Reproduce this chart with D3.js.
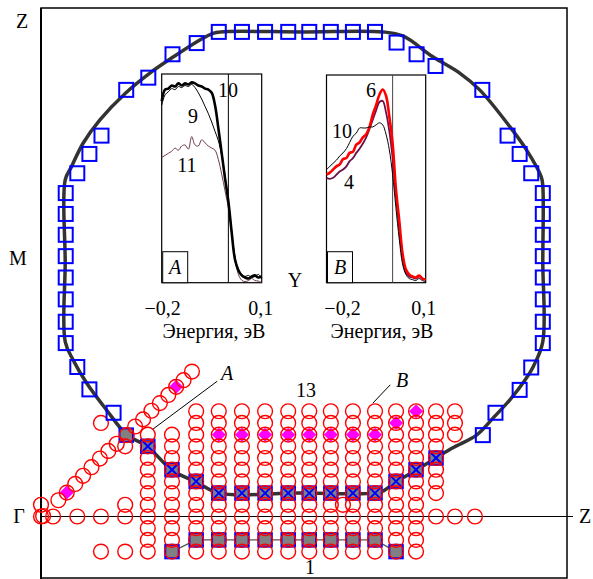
<!DOCTYPE html>
<html>
<head>
<meta charset="utf-8">
<script src="https://cdn.jsdelivr.net/npm/d3@7"></script>
<style>
  body { margin: 0; background: #fff; }
  svg { display: block; }
  text { font-family: "Liberation Serif", "Times New Roman", serif; font-size: 20px; fill: #000; }
</style>
</head>
<body>
<svg id="chart" width="593" height="579"></svg>
<script>
// ---- Momentum grid (fractions of the Γ–Z distance) ----
const rowKz = [-0.069, -0.046, -0.023, 0, 0.023, 0.046, 0.069, 0.092, 0.115, 0.138, 0.161, 0.184, 0.207]; // rows -3 … 9

// vertical scan columns: kx and the row range covered
const scanKx    = [0.203, 0.249, 0.295, 0.338, 0.382, 0.426, 0.470, 0.510, 0.551, 0.593, 0.635, 0.675, 0.713, 0.751, 0.787];
const scanRowLo = [-3, -3, -3, -3, -3, -3, -3, -3, -3, -3, -3, -3, -3, 2, 7];
const scanRowHi = [7, 7, 9, 9, 9, 9, 9, 9, 9, 9, 9, 9, 9, 9, 9];

// isolated measured points
const extraKx = [0.000, 0.004, 0.023, 0.069, 0.114, 0.160, 0.751, 0.787, 0.825, 0.000, 0.160, 0.114, 0.160, 0.114, 0.160, 0.574];
const extraKz = [0.000, 0.001, 0.000, 0.000, 0.000, 0.000, 0.000, 0.000, 0.000, 0.023, 0.023, -0.069, -0.069, 0.184, 0.138, 0.023];

// diagonal cut
const diagKx = [0.033, 0.049, 0.065, 0.080, 0.096, 0.112, 0.128, 0.144, 0.163, 0.179, 0.194, 0.210, 0.226, 0.242, 0.257, 0.271, 0.287];
const diagKz = [0.032, 0.047, 0.064, 0.080, 0.097, 0.114, 0.129, 0.143, 0.160, 0.177, 0.191, 0.208, 0.223, 0.239, 0.255, 0.268, 0.285];

// Fermi-surface crossings (open squares)
const fsKx = [0.338, 0.382, 0.426, 0.470, 0.510, 0.551, 0.593, 0.635,
              0.296, 0.250, 0.204, 0.162, 0.115, 0.092, 0.069,
              0.047, 0.047, 0.047, 0.047, 0.047, 0.047, 0.047, 0.047,
              0.069, 0.092, 0.138,
              0.676, 0.714, 0.750, 0.839, 0.887, 0.910, 0.932,
              0.954, 0.954, 0.954, 0.954, 0.954, 0.954, 0.954, 0.954,
              0.932, 0.910, 0.864, 0.840];
const fsKz = [0.953, 0.953, 0.953, 0.953, 0.953, 0.953, 0.953, 0.953,
              0.931, 0.909, 0.863, 0.839, 0.749, 0.713, 0.675,
              0.636, 0.595, 0.554, 0.512, 0.470, 0.427, 0.383, 0.341,
              0.294, 0.250, 0.204,
              0.932, 0.909, 0.886, 0.839, 0.749, 0.713, 0.675,
              0.636, 0.595, 0.554, 0.512, 0.470, 0.427, 0.383, 0.341,
              0.293, 0.249, 0.204, 0.160];

// crossings on the scan grid (grey squares, crossed)
const crossKx = [0.203, 0.249, 0.295, 0.338, 0.382, 0.426, 0.470, 0.510, 0.551, 0.593, 0.635, 0.675, 0.713, 0.751];
const crossKz = [0.138, 0.092, 0.069, 0.046, 0.046, 0.046, 0.046, 0.046, 0.046, 0.046, 0.046, 0.069, 0.092, 0.115];
const cutAKx = [0.162];
const cutAKz = [0.160];

// band 1 (grey squares joined by a line)
const bandKx = [0.249, 0.295, 0.338, 0.382, 0.426, 0.470, 0.510, 0.551, 0.593, 0.635, 0.675];
const bandKz = [-0.069, -0.046, -0.046, -0.046, -0.046, -0.046, -0.046, -0.046, -0.046, -0.046, -0.069];

// band 13 maxima (diamonds)
const dmKx = [0.049, 0.257, 0.338, 0.382, 0.426, 0.470, 0.510, 0.551, 0.593, 0.635, 0.675, 0.713];
const dmKz = [0.047, 0.255, 0.161, 0.161, 0.161, 0.161, 0.161, 0.161, 0.161, 0.161, 0.184, 0.207];

// Fermi contour
const contourKx = [0.327, 0.340, 0.500, 0.650, 0.688, 0.745, 0.796, 0.834, 0.891, 0.923, 0.951, 0.954, 0.954, 0.954,
                   0.936, 0.920, 0.891, 0.859, 0.828, 0.783, 0.751, 0.713, 0.675, 0.652, 0.635, 0.490, 0.338,
                   0.295, 0.249, 0.203, 0.163, 0.125, 0.087, 0.061, 0.046, 0.046, 0.046, 0.058, 0.080, 0.112,
                   0.160, 0.207, 0.252, 0.302];
const contourKz = [0.950, 0.953, 0.953, 0.953, 0.945, 0.904, 0.872, 0.839, 0.767, 0.721, 0.668, 0.650, 0.500, 0.344,
                   0.295, 0.268, 0.229, 0.193, 0.160, 0.135, 0.115, 0.091, 0.068, 0.051, 0.046, 0.046, 0.046,
                   0.068, 0.091, 0.137, 0.161, 0.209, 0.262, 0.308, 0.344, 0.500, 0.662, 0.688, 0.734, 0.780,
                   0.832, 0.872, 0.904, 0.937];

// ---- EDC insets ----
const energy = [-0.20, -0.19, -0.18, -0.17, -0.16, -0.15, -0.14, -0.13, -0.12, -0.11, -0.10,
                -0.09, -0.08, -0.07, -0.06, -0.05, -0.04, -0.03, -0.02, -0.01, 0.00,
                0.01, 0.02, 0.03, 0.04, 0.05, 0.06, 0.07, 0.08, 0.09, 0.10];
const edcA10 = [0.87, 0.925, 0.93, 0.945, 0.94, 0.955, 0.945, 0.955, 0.95, 0.96, 0.955,
                0.945, 0.94, 0.93, 0.925, 0.91, 0.85, 0.74, 0.62, 0.50, 0.39,
                0.24, 0.11, 0.06, 0.035, 0.025, 0.02, 0.03, 0.035, 0.025, 0.03];
const edcA9  = [0.85, 0.90, 0.915, 0.93, 0.925, 0.94, 0.935, 0.945, 0.94, 0.95, 0.935,
                0.91, 0.88, 0.845, 0.81, 0.77, 0.725, 0.68, 0.61, 0.51, 0.39,
                0.25, 0.12, 0.065, 0.04, 0.03, 0.035, 0.025, 0.03, 0.04, 0.02];
const edcA11 = [0.60, 0.61, 0.62, 0.63, 0.645, 0.635, 0.655, 0.66, 0.64, 0.70, 0.66,
                0.655, 0.685, 0.67, 0.655, 0.645, 0.635, 0.59, 0.52, 0.44, 0.36,
                0.24, 0.12, 0.04, 0.012, 0.005, 0.01, 0.02, 0.01, 0.008, 0.0];
const edcB6  = [0.52, 0.53, 0.545, 0.56, 0.57, 0.595, 0.60, 0.625, 0.63, 0.665, 0.675,
                0.70, 0.715, 0.75, 0.81, 0.855, 0.905, 0.93, 0.90, 0.80, 0.67,
                0.45, 0.30, 0.14, 0.065, 0.04, 0.03, 0.025, 0.035, 0.02, 0.015];
const edcB4  = [0.505, 0.50, 0.505, 0.52, 0.535, 0.545, 0.56, 0.585, 0.60, 0.625, 0.645,
                0.67, 0.70, 0.74, 0.785, 0.83, 0.87, 0.875, 0.82, 0.73, 0.60,
                0.42, 0.26, 0.12, 0.05, 0.03, 0.025, 0.02, 0.03, 0.02, 0.015];
const edcB10 = [0.545, 0.56, 0.575, 0.59, 0.61, 0.625, 0.645, 0.675, 0.705, 0.72, 0.745,
                0.745, 0.745, 0.75, 0.75, 0.76, 0.77, 0.76, 0.715, 0.64, 0.52,
                0.36, 0.21, 0.09, 0.04, 0.02, 0.015, 0.01, 0.02, 0.01, 0.005];
const energyTicks = [-0.2, 0.1];
const energyTickText = ["\u22120,2", "0,1"];

// ---- drawing ----
const svg = d3.select("#chart");
const x = d3.scaleLinear().domain([0, 1]).range([41, 567]);
const y = d3.scaleLinear().domain([0, 1]).range([516.5, 8]);
const zip = (a, b) => a.map((v, i) => [v, b[i]]);

// frame and Γ–Z line
svg.append("rect").attr("x", x(0)).attr("y", y(1)).attr("width", x(1) - x(0)).attr("height", 578 - y(1))
  .attr("fill", "none").attr("stroke", "#000").attr("stroke-width", 1.5);
svg.append("line").attr("x1", x(0)).attr("x2", x(0)).attr("y1", y(1)).attr("y2", 579)
  .attr("stroke", "#000").attr("stroke-width", 2);
svg.append("line").attr("x1", x(0)).attr("x2", x(1) + 6).attr("y1", y(0)).attr("y2", y(0))
  .attr("stroke", "#000").attr("stroke-width", 1);

// Fermi contour
svg.append("path")
  .datum(zip(contourKx, contourKz))
  .attr("d", d3.line().x(d => x(d[0])).y(d => y(d[1])).curve(d3.curveCatmullRomClosed.alpha(0.5)))
  .attr("fill", "none").attr("stroke", "#333").attr("stroke-width", 3.5);

// band 1 line + squares
const band = zip(bandKx, bandKz);
svg.append("path").datum(band)
  .attr("d", d3.line().x(d => x(d[0])).y(d => y(d[1])))
  .attr("fill", "none").attr("stroke", "#555").attr("stroke-width", 1.3);

function greySquares(pts, s) {
  svg.append("g").selectAll("rect").data(pts).join("rect")
    .attr("x", d => x(d[0]) - s / 2).attr("y", d => y(d[1]) - s / 2)
    .attr("width", s).attr("height", s)
    .attr("fill", "#808080").attr("stroke", "#0000ff").attr("stroke-width", 2);
}
greySquares(band, 13.5);
const crosses = zip(crossKx, crossKz);
greySquares(crosses, 13.5);
greySquares(zip(cutAKx, cutAKz), 13.5);

// blue crosses
const cg = svg.append("g").attr("stroke", "#0000ff").attr("stroke-width", 2);
crosses.forEach(d => {
  const cx = x(d[0]), cy = y(d[1]), h = 5.5;
  cg.append("line").attr("x1", cx - h).attr("y1", cy - h).attr("x2", cx + h).attr("y2", cy + h);
  cg.append("line").attr("x1", cx - h).attr("y1", cy + h).attr("x2", cx + h).attr("y2", cy - h);
});

// diamonds
svg.append("g").selectAll("path").data(zip(dmKx, dmKz)).join("path")
  .attr("d", d => { const cx = x(d[0]), cy = y(d[1]), h = 7; return `M${cx},${cy - h}L${cx + h},${cy}L${cx},${cy + h}L${cx - h},${cy}Z`; })
  .attr("fill", "#ff00ff");

// measured points (red circles)
const scanPts = [];
scanKx.forEach((kx, i) => { for (let r = scanRowLo[i]; r <= scanRowHi[i]; r++) scanPts.push([kx, rowKz[r + 3]]); });
const allPts = scanPts.concat(zip(extraKx, extraKz), zip(diagKx, diagKz));
svg.append("g").selectAll("circle").data(allPts).join("circle")
  .attr("cx", d => x(d[0])).attr("cy", d => y(d[1])).attr("r", 7.4)
  .attr("fill", "none").attr("stroke", "#ff0000").attr("stroke-width", 1.4);

// Fermi-surface open squares
svg.append("g").selectAll("rect").data(zip(fsKx, fsKz)).join("rect")
  .attr("x", d => x(d[0]) - 7).attr("y", d => y(d[1]) - 7).attr("width", 14).attr("height", 14)
  .attr("fill", "none").attr("stroke", "#0000ff").attr("stroke-width", 2);

// cut labels
svg.append("line").attr("x1", x(0.213)).attr("y1", y(0.172)).attr("x2", x(0.335)).attr("y2", y(0.266))
  .attr("stroke", "#000").attr("stroke-width", 1);
svg.append("text").attr("x", 227).attr("y", 380).attr("text-anchor", "middle").attr("font-style", "italic").text("A");
svg.append("line").attr("x1", x(0.631)).attr("y1", y(0.223)).attr("x2", x(0.664)).attr("y2", y(0.259))
  .attr("stroke", "#000").attr("stroke-width", 1);
svg.append("text").attr("x", 402).attr("y", 387).attr("text-anchor", "middle").attr("font-style", "italic").text("B");
svg.append("text").attr("x", 306).attr("y", 397).attr("text-anchor", "middle").text("13");
svg.append("text").attr("x", 310).attr("y", 574).attr("text-anchor", "middle").text("1");

// high-symmetry labels
svg.append("text").attr("x", 22).attr("y", 28).attr("text-anchor", "middle").text("Z");
svg.append("text").attr("x", 18).attr("y", 265).attr("text-anchor", "middle").text("M");
svg.append("text").attr("x", 19).attr("y", 523).attr("text-anchor", "middle").text("\u0393");
svg.append("text").attr("x", 585).attr("y", 523).attr("text-anchor", "middle").text("Z");
svg.append("text").attr("x", 295).attr("y", 287).attr("text-anchor", "middle").text("Y");

// EDC inset
function inset(opt) {
  const ex = d3.scaleLinear().domain([-0.2, 0.1]).range([opt.left, opt.right]);
  const iy = d3.scaleLinear().domain([0, 1]).range([opt.bottom, opt.top]);
  const g = svg.append("g");
  g.append("rect").attr("x", opt.left).attr("y", opt.top).attr("width", opt.right - opt.left)
    .attr("height", opt.bottom - opt.top).attr("fill", "#fff").attr("stroke", "#000").attr("stroke-width", 1.2);
  g.append("line").attr("x1", ex(0)).attr("x2", ex(0)).attr("y1", opt.top).attr("y2", opt.bottom)
    .attr("stroke", opt.fermiColor).attr("stroke-width", 1);
  const line = d3.line().x((d, i) => ex(energy[i])).y(d => iy(d)).curve(d3.curveCatmullRom.alpha(0.5));
  opt.curves.forEach(c => {
    g.append("path").datum(c.values).attr("d", line)
      .attr("fill", "none").attr("stroke", c.color).attr("stroke-width", c.width).attr("stroke-linejoin", "round");
  });
  g.append("rect").attr("x", opt.left + 1).attr("y", opt.bottom - 31).attr("width", 25).attr("height", 31)
    .attr("fill", "#fff").attr("stroke", "#000").attr("stroke-width", 1);
  g.append("text").attr("x", opt.left + 13.5).attr("y", opt.bottom - 9).attr("text-anchor", "middle")
    .attr("font-style", "italic").text(opt.name);
  energyTicks.forEach((t, i) => {
    g.append("text").attr("x", ex(t) + opt.tickDx[i]).attr("y", 315).attr("text-anchor", "middle").text(energyTickText[i]);
  });
  g.append("text").attr("x", opt.titleX).attr("y", 338).attr("text-anchor", "middle").text("Энергия, эВ");
  opt.labels.forEach(l => g.append("text").attr("x", l[0]).attr("y", l[1]).attr("text-anchor", "middle").text(l[2]));
}

inset({
  name: "A", left: 161.7, right: 261.7, top: 74, bottom: 282.7, fermiColor: "#000",
  tickDx: [1, -1], titleX: 214,
  curves: [
    { values: edcA11, color: "#6e3a4a", width: 1 },
    { values: edcA9, color: "#000", width: 1 },
    { values: edcA10, color: "#000", width: 2.6 }
  ],
  labels: [[228, 97, "10"], [193, 123, "9"], [187, 172, "11"]]
});
inset({
  name: "B", left: 326.5, right: 425.7, top: 75, bottom: 282.7, fermiColor: "#444",
  tickDx: [16, -2], titleX: 382,
  curves: [
    { values: edcB4, color: "#6a1048", width: 1.8 },
    { values: edcB6, color: "#ff0000", width: 2.6 },
    { values: edcB10, color: "#000", width: 1 }
  ],
  labels: [[371, 97, "6"], [342, 138, "10"], [349, 189, "4"]]
});
</script>
</body>
</html>
